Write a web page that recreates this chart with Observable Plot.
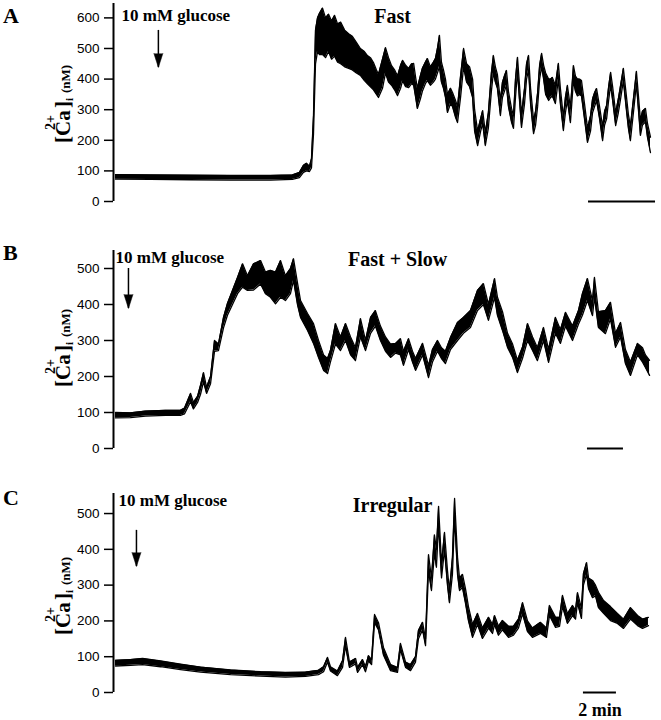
<!DOCTYPE html>
<html><head><meta charset="utf-8">
<script src="https://cdn.jsdelivr.net/npm/d3@7"></script>
<script src="https://cdn.jsdelivr.net/npm/@observablehq/plot@0.6"></script>
<style>
body{margin:0;background:#fff;}
#chart{width:661px;}
#chart svg{display:block;}
</style></head><body><div id="chart"></div>
<script>
// ---------- Panel A: "Fast" (time in min, [Ca2+]i in nM, noise band lo/hi) ----------
const tA = [0,1.04,2.24,3.43,4.63,5.28,5.49,5.61,5.70,5.79,5.85,5.91,5.97,6.03,6.09,6.18,6.27,6.36,6.45,6.54,
  6.63,6.72,6.84,6.96,7.07,7.19,7.31,7.43,7.52,7.61,7.70,7.79,7.85,7.97,8.06,8.15,8.24,8.33,8.42,8.51,
  8.57,8.66,8.75,8.84,8.90,8.96,9.01,9.10,9.16,9.25,9.31,9.40,9.49,9.55,9.61,9.67,9.73,9.79,9.85,9.91,
  10.00,10.06,10.15,10.21,10.30,10.39,10.48,10.57,10.66,10.72,10.81,10.90,10.96,11.04,11.13,11.22,11.28,11.34,11.40,11.49,
  11.55,11.61,11.67,11.73,11.82,11.88,11.94,12.00,12.06,12.12,12.21,12.27,12.33,12.39,12.48,12.54,12.60,12.66,12.72,12.78,
  12.84,12.93,12.99,13.04,13.13,13.22,13.28,13.37,13.43,13.49,13.58,13.67,13.73,13.79,13.85,13.91,14.00,14.09,14.18,14.24,
  14.30,14.36,14.45,14.54,14.60,14.66,14.72,14.78,14.84,14.93,15.01,15.07,15.16,15.25,15.31,15.37,15.46,15.55,15.61,15.67,
  15.73,15.82,15.88,15.97];
const loA = [73,72,71,70,70,72,78,95,100,98,110,220,450,490,480,480,470,490,465,475,
  455,450,440,435,430,420,412,395,385,375,365,350,340,370,420,390,380,365,346,370,
  395,375,372,385,380,340,304,335,360,385,395,380,390,400,420,440,390,370,340,291,
  320,310,275,258,340,440,390,375,340,230,183,230,255,183,240,360,420,390,370,281,
  340,360,380,310,260,239,340,425,330,242,320,400,430,320,222,250,310,400,440,400,
  350,330,340,345,320,400,320,232,290,330,258,395,360,345,350,345,270,193,230,290,
  310,330,270,199,250,270,330,380,330,248,290,330,395,300,240,199,290,385,300,216,
  250,260,210,160];
const hiA = [88,87,86,85,85,87,95,118,125,115,140,280,560,600,615,632,600,612,590,608,
  580,586,560,548,540,520,500,490,477,470,454,430,415,465,503,470,444,430,410,445,
  461,445,435,450,451,405,370,410,435,455,467,440,455,467,500,543,455,430,400,350,
  370,356,330,310,410,500,450,440,400,300,230,271,297,225,290,420,477,440,415,330,
  389,410,428,360,305,280,400,471,380,285,370,450,477,370,265,295,355,445,484,445,
  420,400,400,405,380,451,370,275,340,379,305,444,410,400,400,395,320,240,280,335,
  355,369,310,245,295,314,375,422,375,290,335,375,435,345,285,245,335,425,345,265,
  295,304,255,210];
const ticksA = [0,100,200,300,400,500,600];

// ---------- Panel B: "Fast + Slow" ----------
const tB = [0,0.83,1.67,2.78,3.61,3.83,4.17,4.33,4.56,4.72,4.89,5.06,5.28,5.50,5.72,6.00,6.22,6.50,6.78,7.06,
  7.33,7.67,8.06,8.33,8.61,8.89,9.17,9.44,9.72,9.89,10.11,10.28,10.67,11.00,11.28,11.56,11.78,11.94,12.22,12.50,
  12.78,13.06,13.33,13.61,13.89,14.17,14.44,14.72,15.00,15.28,15.56,15.83,16.00,16.28,16.50,16.67,17.06,17.39,17.61,17.89,
  18.11,18.33,18.61,19.00,19.33,19.72,20.11,20.44,20.72,21.06,21.22,21.50,21.78,22.06,22.33,22.61,22.89,23.17,23.44,23.78,
  24.06,24.44,24.72,25.00,25.39,25.72,25.94,26.22,26.50,26.61,26.83,27.22,27.50,27.78,28.06,28.33,28.61,29.00,29.28,29.44,
  29.67];
const loB = [85,86,90,92,92,96,130,110,128,150,185,153,180,270,272,335,370,400,430,448,
  439,440,457,430,420,402,420,411,430,467,400,364,328,292,253,217,208,240,290,272,
  300,260,244,310,272,320,340,300,270,253,265,260,231,275,240,217,260,197,240,270,
  250,236,275,300,320,336,383,400,356,420,370,328,281,253,211,250,300,272,244,300,
  239,320,292,340,300,345,370,411,369,420,336,319,360,281,310,236,203,260,240,225,
  203];
const hiB = [100,99,104,106,106,112,153,128,145,175,211,170,200,300,290,364,403,439,475,513,
  480,513,522,490,495,490,522,480,500,527,460,411,375,347,300,260,250,272,347,310,
  347,310,280,361,300,364,383,340,310,290,292,305,270,305,270,250,292,230,275,300,
  280,270,308,350,364,383,439,458,400,472,420,380,320,290,245,281,347,310,280,336,
  275,364,330,378,340,383,430,472,410,475,380,383,406,320,350,275,240,292,280,260,
  245];
const ticksB = [0,100,200,300,400,500];

// ---------- Panel C: "Irregular" ----------
const tC = [0,0.91,1.64,2.73,3.94,5.15,6.97,8.79,10.30,11.52,12.30,12.61,12.85,13.03,13.45,13.76,13.94,14.18,14.55,14.67,
  14.97,15.15,15.33,15.52,15.70,15.94,16.24,16.67,17.09,17.27,17.58,17.88,18.18,18.36,18.61,18.79,18.97,19.15,19.33,19.45,
  19.58,19.76,19.94,20.12,20.24,20.42,20.55,20.73,20.85,21.03,21.21,21.39,21.64,21.94,22.24,22.61,22.85,22.97,23.21,23.45,
  23.82,24.12,24.42,24.67,24.97,25.27,25.76,26.12,26.30,26.67,26.91,27.09,27.39,27.70,27.88,28.00,28.24,28.36,28.55,28.67,
  28.91,29.09,29.27,29.58,30.00,30.42,30.79,31.21,31.64,31.94,32.30];
const loC = [74,76,78,72,64,57,50,46,43,45,50,58,85,60,47,70,130,70,80,56,
  78,58,88,78,195,175,105,61,56,120,70,61,85,150,175,131,340,285,390,350,
  470,320,400,300,251,330,490,330,285,293,250,201,154,190,151,180,165,190,160,175,
  154,160,180,220,170,154,165,154,215,182,185,240,193,215,205,250,207,300,330,290,
  265,270,237,221,201,193,179,205,187,179,187];
const hiC = [90,92,95,88,79,71,63,58,56,57,62,72,98,72,60,89,154,85,95,70,
  92,72,103,92,218,195,126,78,70,137,85,78,100,173,196,150,385,320,440,400,
  520,360,447,340,285,377,542,377,320,330,290,240,190,221,180,210,190,215,185,201,
  185,185,205,251,200,180,196,180,243,210,210,271,220,243,230,279,235,332,363,320,
  313,300,280,257,240,221,205,237,215,205,210];
const ticksC = [0,100,200,300,400,500];

// ---------- annotations (data units: min, nM) ----------
const panels = [
  {letter:"A", t:tA, lo:loA, hi:hiA, ticks:ticksA, pxPerMin:33.5, yMax:647, height:228, mt:3, mb:27,
   glucose:{t:0.18, v:590}, arrow:{t:1.28, top:559, tip:438}, name:{text:"Fast", t:8.27, v:583},
   bar:{t1:14.12, t2:16.12}, letterY:23, labelBottom:143},
  {letter:"B", t:tB, lo:loB, hi:hiB, ticks:ticksB, pxPerMin:18, yMax:550, height:242, mt:22, mb:22,
   glucose:{t:0, v:514}, arrow:{t:0.72, top:500, tip:389}, name:{text:"Fast + Slow", t:15.67, v:506},
   bar:{t1:26.22, t2:28.22}, letterY:32, labelBottom:159},
  {letter:"C", t:tC, lo:loC, hi:hiC, ticks:ticksC, pxPerMin:16.5, yMax:556, height:250, mt:23, mb:28,
   glucose:{t:0.18, v:520}, arrow:{t:1.27, top:453, tip:352}, name:{text:"Irregular", t:16.79, v:504},
   bar:{t1:28.36, t2:30.36, label:"2 min", v:-67}, letterY:35, labelBottom:165}
];

const serif = "Liberation Serif, Times New Roman, serif";
const chart = document.getElementById("chart");

for (const p of panels) {
  const data = p.t.map((t, i) => ({t, lo: p.lo[i], hi: p.hi[i]}));
  const x0 = -2 / p.pxPerMin, x1 = (661 - 115) / p.pxPerMin;
  const marks = [
    Plot.areaY(data, {x: "t", y1: "lo", y2: "hi", fill: "black", curve: "linear"}),
    Plot.line(data, {x: "t", y: "lo", stroke: "black", strokeWidth: 1.3}),
    Plot.line(data, {x: "t", y: "hi", stroke: "black", strokeWidth: 1.3}),
    Plot.ruleX([x0], {stroke: "black", strokeWidth: 2}),
    Plot.axisY({ticks: p.ticks, tickSize: 9, tickPadding: 5, strokeWidth: 1.5, fontSize: 13.5, label: null}),
    Plot.text([p.glucose], {x: "t", y: "v", text: () => "10 mM glucose", textAnchor: "start", lineAnchor: "bottom",
      fontFamily: serif, fontWeight: "bold", fontSize: 17, fill: "black"}),
    Plot.ruleX([p.arrow], {x: "t", y1: "top", y2: "tip", stroke: "black", strokeWidth: 1.5}),
    Plot.vector([p.arrow], {x: "t", y: "tip", shape: "spike", anchor: "end", rotate: 180, length: 14, r: 4.5,
      fill: "black", stroke: "black", strokeWidth: 0.5}),
    Plot.text([p.name], {x: "t", y: "v", text: "text", textAnchor: "middle", lineAnchor: "bottom",
      fontFamily: serif, fontWeight: "bold", fontSize: 20, fill: "black"}),
    Plot.ruleY([0], {x1: p.bar.t1, x2: p.bar.t2, stroke: "black", strokeWidth: 2})
  ];
  if (p.bar.label) {
    marks.push(Plot.text([p.bar], {x: d => (d.t1 + d.t2) / 2, y: "v", text: "label", textAnchor: "middle",
      lineAnchor: "bottom", fontFamily: serif, fontWeight: "bold", fontSize: 18, fill: "black"}));
  }
  const svg = Plot.plot({
    width: 661, height: p.height,
    marginLeft: 113, marginRight: 0, marginTop: p.mt, marginBottom: p.mb,
    x: {domain: [x0, x1], axis: null},
    y: {domain: [0, p.yMax]},
    style: {fontFamily: "Liberation Sans, Arial, sans-serif", color: "black", background: "white", overflow: "visible"},
    marks
  });
  const s = d3.select(svg);
  s.append("text").attr("x", 3).attr("y", p.letterY).attr("text-anchor", "start")
    .attr("font-family", serif).attr("font-weight", "bold").attr("font-size", 22).attr("fill", "black")
    .text(p.letter);
  const g = s.append("g").attr("transform", `translate(70,${p.labelBottom}) rotate(-90)`)
    .attr("font-family", serif).attr("font-weight", "bold").attr("fill", "black").attr("text-anchor", "start");
  g.append("text").attr("x", 0).attr("y", 0).attr("font-size", 21).text("[Ca");
  g.append("text").attr("x", 13).attr("y", -15).attr("font-size", 14).text("2+");
  g.append("text").attr("x", 35).attr("y", 0).attr("font-size", 21).text("]");
  g.append("text").attr("x", 42).attr("y", 3).attr("font-size", 11).text("i");
  g.append("text").attr("x", 50).attr("y", 0).attr("font-size", 13).text("(nM)");
  chart.appendChild(svg);
}
</script>
</body></html>
